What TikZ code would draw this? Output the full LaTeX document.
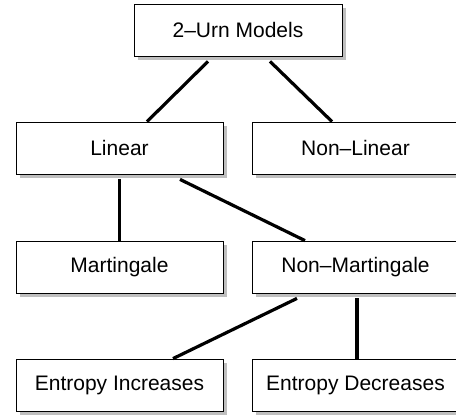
\documentclass[tikz,border=0pt]{standalone}
\usepackage{fontspec}
\setmainfont{Liberation Sans}
\usetikzlibrary{shadows}
\tikzset{
  box/.style = {draw, line width = .8pt, fill = white, minimum width = 207pt,
    minimum height = 52pt, inner sep = 0pt, font = \fontsize{21}{25}\selectfont,
    drop shadow = {shadow xshift = 4pt, shadow yshift = -4pt, fill = black!25, opacity = 1}},
  link/.style = {line width = 3.2pt}
}
\begin{document}
\begin{tikzpicture}[x = 1pt, y = -1pt]
      \useasboundingbox (0,0) rectangle (456,416);
      \clip (0,0) rectangle (456,416);
      \node [box, minimum width = 208pt] (urn) at (238,30) {2--Urn Models};
      \node [box] (lin)  at (119.5,148) {Linear};
      \node [box] (nlin) at (355.5,148) {Non--Linear};
      \node [box] (mart)  at (119.5,267) {Martingale};
      \node [box] (nmart) at (355.5,267) {Non--Martingale};
      \node [box] (inc) at (119.5,385) {Entropy Increases};
      \node [box] (dec) at (355.5,385) {Entropy Decreases};
      \draw [link] ([xshift = -30pt, yshift = -5pt]urn.south) -- ([xshift = 27.5pt]lin.north);
      \draw [link] ([xshift = 32pt, yshift = -5pt]urn.south) -- ([xshift = -23.5pt]nlin.north);
      \draw [link] ([yshift = -5pt]lin.south) -- (mart.north);
      \draw [link] ([xshift = 60.5pt, yshift = -5pt]lin.south) -- ([xshift = -50.5pt]nmart.north);
      \draw [link] ([xshift = -58.5pt, yshift = -5pt]nmart.south) -- ([xshift = 53.5pt]inc.north);
      \draw [link] ([xshift = 1.5pt, yshift = -5pt]nmart.south) -- ([xshift = 1.5pt]dec.north);
    \end{tikzpicture}
\end{document}
